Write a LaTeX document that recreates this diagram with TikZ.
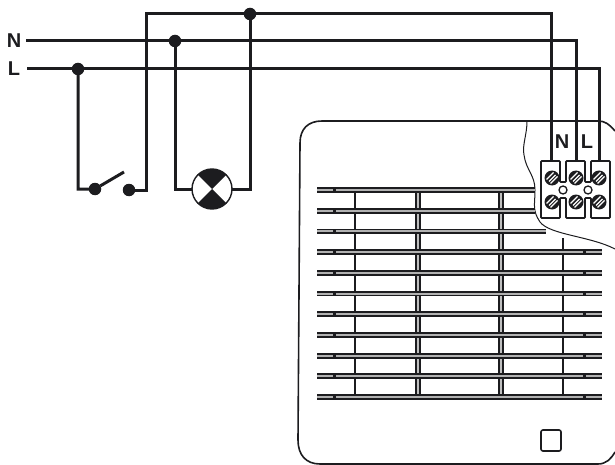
\documentclass[tikz,border=0pt]{standalone}
\usepackage{fontspec}
\setmainfont{Liberation Sans}
\definecolor{wirecol}{rgb}{0.11,0.11,0.12}
\tikzset{
  wire/.style={draw=wirecol, line width=3pt},
  thinline/.style={draw=wirecol, line width=1.6pt},
  dot/.style={circle, fill=wirecol, inner sep=0pt, minimum size=12.5pt, outer sep=0pt},
  term/.style={font=\fontsize{20}{20}\selectfont\bfseries, text=wirecol, inner sep=0pt},
  slat/.style={draw=wirecol, line width=1.9pt, double=gray!60, double distance=2pt},
  mullion/.style={draw=wirecol, line width=1.6pt, double=gray!50, double distance=2.6pt}
}
\begin{document}
\begin{tikzpicture}[x=1pt,y=-1pt]
\useasboundingbox (0,0) rectangle (615,465);

% mains
\node[term] (labN) at (14,41) {N};
\node[term] (labL) at (14,69) {L};
\coordinate (startN) at (26,41);
\coordinate (startL) at (27,69);
\coordinate (startT) at (146,14);
\coordinate (inT) at (551,161);
\coordinate (inN) at (576,161);
\coordinate (inL) at (599,161);
\node[dot] (jL) at (78,69) {};
\node[dot] (jN) at (175,41) {};
\node[dot] (jT) at (250,14) {};

% switch and lamp
\node[dot] (swA) at (95,189) {};
\node[dot] (swB) at (129,190) {};
\coordinate (swEnd) at (124,172);
\node[circle, draw=wirecol, fill=white, line width=1.4pt, minimum size=40pt, inner sep=0pt, outer sep=0pt] (lamp) at (212,189) {};

\draw[wire] (startN) -- (jN) -| (inN);
\draw[wire] (startL) -- (jL) -| (inL);
\draw[wire, line join=miter] (inT) |- (jT) -- (startT) -- (146,190) -- (swB);
\draw[wire] (jL) |- (swA) -- (swEnd);
\draw[wire] (jN) |- (lamp);
\draw[wire] (jT) |- (lamp);
\fill[wirecol] (lamp.center) -- (lamp.45) arc[start angle=45, end angle=135, radius=20pt] -- cycle;
\fill[wirecol] (lamp.center) -- (lamp.225) arc[start angle=225, end angle=315, radius=20pt] -- cycle;

% housing
\draw[thinline] (615,131) .. controls (609,124) and (605,121) .. (598,121) -- (322,121)
	.. controls (308,121) and (300,129) .. (300,143) -- (298,440)
	.. controls (298,455) and (306,464) .. (320,464) -- (598,464)
	.. controls (606,464) and (611,459) .. (615,452);
\draw[wirecol, line width=1pt] (527,121) .. controls (527,135) and (522,145) .. (524,155)
	.. controls (526,170) and (535,175) .. (535,190) .. controls (535,205) and (532,210) .. (540,222)
	.. controls (550,235) and (590,236) .. (615,249);

% grille
\foreach \x in {355,563} {
  \pgfmathsetmacro{\ystart}{\x==563 ? 238 : 190}
  \draw[thinline] (\x,\ystart) -- (\x,394);
}
\foreach \x/\ystart in {418/190,501/190} {
  \draw[mullion] (\x,\ystart) -- (\x,394);
}
\foreach \y/\xend in {190/535,210.7/535,231.4/546} {
  \draw[slat] (317,\y) -- (\xend,\y);
  \fill[wirecol] (332.5,\y-2) rectangle (335.5,\y+2);
}
\foreach \y in {252.1,272.8,293.5,314.2,334.9,355.6,376.3,397} {
  \draw[slat] (317,\y) -- (602,\y);
  \fill[wirecol] (332.5,\y-2) rectangle (335.5,\y+2);
  \fill[wirecol] (582.5,\y-2) rectangle (585.5,\y+2);
}
\draw[thinline, rounded corners=2pt] (541,430) rectangle (561,451);

% terminal block
\draw[thinline, fill=white, rounded corners=0.8pt] (541,161) -- (560,161) -- (560,182) -- (566,182) -- (566,161)
	-- (585,161) -- (585,182) -- (591,182) -- (591,161) -- (610,161) -- (610,218)
	-- (591,218) -- (591,198) -- (585,198) -- (585,218) -- (566,218) -- (566,198)
	-- (560,198) -- (560,218) -- (541,218) -- cycle;
\foreach \x in {552,576,599} {
  \foreach \y in {178,202} {
    \node[circle, fill=wirecol, inner sep=0pt, minimum size=15pt] (screw\x\y) at (\x,\y) {};
    \draw[white, line width=1.3pt] (\x-5.5,\y+1.5) -- (\x+1.5,\y-5.5);
    \draw[white, line width=1.3pt] (\x-3,\y+3.5) -- (\x+3.5,\y-3);
    \draw[white, line width=1.3pt] (\x-1.5,\y+5.5) -- (\x+5.5,\y-1.5);
  }
}
\foreach \x in {563,588} {
  \node[circle, draw=wirecol, fill=white, line width=1.3pt, inner sep=0pt, minimum size=8pt] (hole\x) at (\x,190) {};
}
\node[term] (lab2N) at (562,142) {N};
\node[term] (lab2L) at (587,142) {L};
\end{tikzpicture}
\end{document}
